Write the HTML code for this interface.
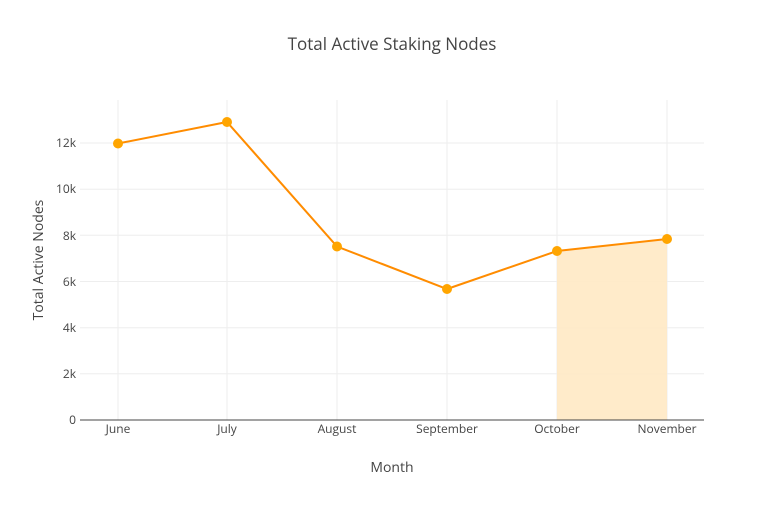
<!DOCTYPE html>
<html><head><meta charset="utf-8"><style>
html,body{margin:0;padding:0;background:#fff;}
svg text{font-family:"Open Sans","Liberation Sans",sans-serif;}
</style></head><body>
<svg width="784" height="500" xmlns="http://www.w3.org/2000/svg">
<rect width="784" height="500" fill="#fff"/>
<g stroke="#eee" stroke-width="1">
<line x1="118" y1="100" x2="118" y2="420"/>
<line x1="227" y1="100" x2="227" y2="420"/>
<line x1="337" y1="100" x2="337" y2="420"/>
<line x1="447" y1="100" x2="447" y2="420"/>
<line x1="557" y1="100" x2="557" y2="420"/>
<line x1="667" y1="100" x2="667" y2="420"/>
<line x1="80" y1="373.8" x2="704" y2="373.8"/>
<line x1="80" y1="327.7" x2="704" y2="327.7"/>
<line x1="80" y1="281.5" x2="704" y2="281.5"/>
<line x1="80" y1="235.3" x2="704" y2="235.3"/>
<line x1="80" y1="189.2" x2="704" y2="189.2"/>
<line x1="80" y1="143" x2="704" y2="143"/>
</g>
<polygon points="557,251 667,239 667,420 557,420" fill="#ffe9c4" opacity="0.9"/>
<line x1="80" y1="420" x2="704" y2="420" stroke="#444" stroke-width="1"/>
<polyline points="118,143.5 227,122 337,246.5 447,289 557,251 667,239" fill="none" stroke="#ff8c00" stroke-width="2"/>
<g fill="#ffa500">
<circle cx="118" cy="143.5" r="5"/><circle cx="227" cy="122" r="5"/><circle cx="337" cy="246.5" r="5"/>
<circle cx="447" cy="289" r="5"/><circle cx="557" cy="251" r="5"/><circle cx="667" cy="239" r="5"/>
</g>
<g font-size="12" fill="#444" text-anchor="end">
<text x="76" y="424">0</text>
<text x="76" y="378">2k</text>
<text x="76" y="332">4k</text>
<text x="76" y="286">6k</text>
<text x="76" y="240">8k</text>
<text x="76" y="193">10k</text>
<text x="76" y="147">12k</text>
</g>
<g font-size="12" fill="#444" text-anchor="middle">
<text x="118" y="433">June</text>
<text x="227" y="433">July</text>
<text x="337" y="433">August</text>
<text x="447" y="433">September</text>
<text x="557" y="433">October</text>
<text x="667" y="433">November</text>
</g>
<text x="392" y="472" font-size="14" fill="#444" text-anchor="middle">Month</text>
<text x="43" y="260" font-size="14" fill="#444" text-anchor="middle" transform="rotate(-90 43 260)">Total Active Nodes</text>
<text x="392" y="50" font-size="17" fill="#444" text-anchor="middle">Total Active Staking Nodes</text>
</svg>
</body></html>
